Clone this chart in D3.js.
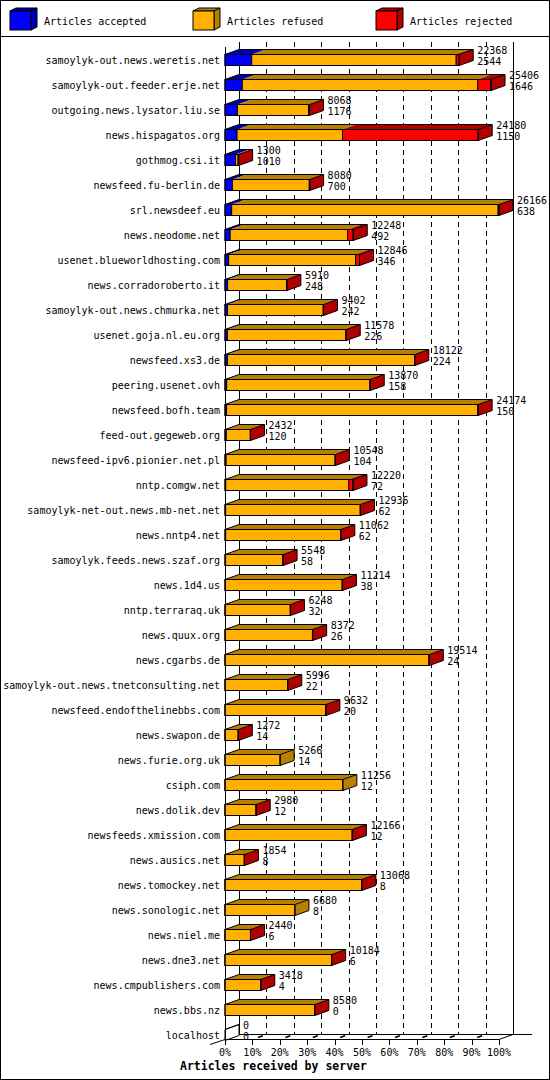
<!DOCTYPE html>
<html>
<head>
<meta charset="utf-8">
<script src="https://cdn.jsdelivr.net/npm/d3@7"></script>
<style>
  body { margin: 0; background: #fff; }
  svg { display: block; }
  text { font-family: "DejaVu Sans Mono", monospace; font-size: 10px; fill: #000; }
</style>
</head>
<body>
<svg id="chart"></svg>
<script>
// servers, sorted by accepted articles
const hosts = [
  "samoylyk-out.news.weretis.net", "samoylyk-out.feeder.erje.net", "outgoing.news.lysator.liu.se",
  "news.hispagatos.org", "gothmog.csi.it", "newsfeed.fu-berlin.de", "srl.newsdeef.eu",
  "news.neodome.net", "usenet.blueworldhosting.com", "news.corradoroberto.it",
  "samoylyk-out.news.chmurka.net", "usenet.goja.nl.eu.org", "newsfeed.xs3.de", "peering.usenet.ovh",
  "newsfeed.bofh.team", "feed-out.gegeweb.org", "newsfeed-ipv6.pionier.net.pl", "nntp.comgw.net",
  "samoylyk-net-out.news.mb-net.net", "news.nntp4.net", "samoylyk.feeds.news.szaf.org", "news.1d4.us",
  "nntp.terraraq.uk", "news.quux.org", "news.cgarbs.de", "samoylyk-out.news.tnetconsulting.net",
  "newsfeed.endofthelinebbs.com", "news.swapon.de", "news.furie.org.uk", "csiph.com", "news.dolik.dev",
  "newsfeeds.xmission.com", "news.ausics.net", "news.tomockey.net", "news.sonologic.net",
  "news.niel.me", "news.dne3.net", "news.cmpublishers.com", "news.bbs.nz", "localhost"
];
const accepted = [2544, 1646, 1176, 1150, 1010, 700, 638, 492, 346, 248, 242, 226, 224, 158, 150, 120,
  104, 72, 62, 62, 58, 38, 32, 26, 24, 22, 20, 14, 14, 12, 12, 12, 8, 8, 8, 6, 6, 4, 0, 0];
const refused = [19534, 22490, 6802, 10070, 240, 7350, 25448, 11216, 12120, 5642, 9140, 11322, 17878,
  13692, 24004, 2302, 10414, 11748, 12854, 10980, 5480, 11156, 6206, 8326, 19450, 5964, 9602, 1248,
  5252, 11244, 2958, 12134, 1836, 13040, 6672, 2424, 10168, 3404, 8570, 0];
const rejected = [290, 1270, 90, 12960, 50, 30, 80, 540, 380, 20, 20, 30, 20, 20, 20, 10, 30, 400, 20,
  20, 10, 20, 10, 20, 40, 10, 10, 10, 0, 0, 10, 20, 10, 20, 0, 10, 10, 10, 10, 0];
const seriesNames = ["Articles accepted", "Articles refused", "Articles rejected"];
const percentTicks = [0, 10, 20, 30, 40, 50, 60, 70, 80, 90, 100];

const width = 550, height = 1080;
const depthX = 14, depthY = 5;
const barH = 11;
const frontColor = ["#0000ff", "#ffb000", "#ff0000"];
const darkColor = ["#0000b0", "#b88000", "#b00000"];

const data = hosts.map((h, i) => ({
  host: h, 0: accepted[i], 1: refused[i], 2: rejected[i],
  total: accepted[i] + refused[i] + rejected[i]
}));
const stacked = d3.stack().keys([0, 1, 2])(data);

const x = d3.scaleLinear()
    .domain([0, d3.max(data, d => d.total)])
    .range([225, 499]);
const pct = d3.scaleLinear().domain([0, 100]).range([225, 499]);
const y = d3.scaleBand()
    .domain(hosts)
    .range([54, 54 + 25 * hosts.length]);

const floorY = 1039.5, topY = 42;

const svg = d3.select("#chart")
    .attr("width", width)
    .attr("height", height)
    .attr("viewBox", [0, 0, width, height]);

svg.append("rect").attr("width", width).attr("height", height).attr("fill", "#fff");

// legend
const legend = svg.append("g");
seriesNames.forEach((name, k) => {
  const lx = 10 + 183 * k, ly = 11, lw = 21, lh = 19, ldx = 6, ldy = 3;
  const g = legend.append("g").attr("stroke", "#000").attr("stroke-width", 1);
  g.append("path").attr("fill", darkColor[k])
    .attr("d", `M${lx},${ly}L${lx + ldx},${ly - ldy}H${lx + lw + ldx}L${lx + lw},${ly}Z`);
  g.append("path").attr("fill", darkColor[k])
    .attr("d", `M${lx + lw},${ly}L${lx + lw + ldx},${ly - ldy}V${ly + lh - ldy}L${lx + lw},${ly + lh}Z`);
  g.append("rect").attr("x", lx).attr("y", ly).attr("width", lw).attr("height", lh).attr("fill", frontColor[k]);
  legend.append("text").attr("x", lx + 34).attr("y", 25).text(name);
});
svg.append("line").attr("x1", 0).attr("x2", width).attr("y1", 36.5).attr("y2", 36.5)
    .attr("stroke", "#000");

// back wall: grid lines
const grid = svg.append("g").attr("stroke", "#000").attr("shape-rendering", "crispEdges");
grid.selectAll("line.g")
  .data(percentTicks)
  .join("line")
    .attr("x1", d => Math.round(pct(d) + depthX) + 0.5)
    .attr("x2", d => Math.round(pct(d) + depthX) + 0.5)
    .attr("y1", topY)
    .attr("y2", floorY - depthY)
    .attr("stroke-dasharray", d => (d === 0 || d === 100) ? null : "5,4");

// floor
const floor = svg.append("g").attr("stroke", "#000").attr("fill", "none");
floor.append("line").attr("x1", pct(0) + depthX).attr("x2", 532)
    .attr("y1", floorY - depthY).attr("y2", floorY - depthY).attr("shape-rendering", "crispEdges");
floor.append("line").attr("x1", pct(0)).attr("x2", pct(100))
    .attr("y1", floorY).attr("y2", floorY).attr("shape-rendering", "crispEdges");
floor.append("line").attr("x1", pct(0) - 15).attr("y1", floorY + 5)
    .attr("x2", pct(0)).attr("y2", floorY);
floor.append("line").attr("x1", pct(100)).attr("y1", floorY)
    .attr("x2", pct(100) + depthX).attr("y2", floorY - depthY);
floor.append("line").attr("x1", pct(0) + 0.5).attr("x2", pct(0) + 0.5)
    .attr("y1", topY + depthY).attr("y2", floorY).attr("shape-rendering", "crispEdges");
floor.selectAll("line.t")
  .data(percentTicks)
  .join("line")
    .attr("x1", d => Math.round(pct(d)) + 0.5)
    .attr("x2", d => Math.round(pct(d)) + 0.5)
    .attr("y1", floorY).attr("y2", floorY + 5)
    .attr("shape-rendering", "crispEdges");
floor.selectAll("line.d")
  .data(percentTicks.slice(1, 10))
  .join("line")
    .attr("stroke-width", 1.6)
    .attr("x1", d => pct(d) + depthX * 0.4).attr("y1", floorY - depthY * 0.4)
    .attr("x2", d => pct(d) + depthX * 0.75).attr("y2", floorY - depthY * 0.75);

svg.append("g")
  .selectAll("text")
  .data(percentTicks)
  .join("text")
    .attr("x", d => pct(d))
    .attr("y", 1056)
    .attr("text-anchor", "middle")
    .text(d => d + "%");

// bars
const bars = svg.append("g");
data.forEach((d, i) => {
  const t = y(d.host) + 0.5;
  const g = bars.append("g");
  const xs = x(0);
  const xe = x(d.total);
  let last = -1;
  stacked.forEach((s, k) => {
    const x0 = x(s[i][0]), x1 = x(s[i][1]);
    if (s[i][1] - s[i][0] <= 0) return;
    last = k;
    g.append("path").attr("fill", darkColor[k])
      .attr("d", `M${x0},${t}L${x0 + depthX},${t - depthY}H${x1 + depthX}L${x1},${t}Z`);
    g.append("rect")
      .attr("x", x0).attr("y", t).attr("width", x1 - x0).attr("height", barH)
      .attr("fill", frontColor[k]).attr("stroke", "#000");
  });
  g.append("path")
    .attr("fill", last >= 0 ? darkColor[last] : "none")
    .attr("stroke", "#000")
    .attr("d", `M${xe},${t}L${xe + depthX},${t - depthY}V${t - depthY + barH}L${xe},${t + barH}Z`);
  g.append("path")
    .attr("fill", "none").attr("stroke", "#000")
    .attr("d", `M${xs},${t}L${xs + depthX},${t - depthY}H${xe + depthX}`);
  g.append("rect")
    .attr("x", xs).attr("y", t).attr("width", xe - xs).attr("height", barH)
    .attr("fill", "none").attr("stroke", "#000");

  bars.append("text").attr("x", xe + depthX + 4).attr("y", t - 0.5).text(d.total);
  bars.append("text").attr("x", xe + depthX + 4).attr("y", t + 10.5).text(d[0]);
  bars.append("text").attr("x", 220).attr("y", t + 9).attr("text-anchor", "end").text(d.host);
});

svg.append("text")
    .attr("x", 180).attr("y", 1070)
    .style("font-weight", "bold").style("font-size", "11.5px")
    .text("Articles received by server");

svg.append("rect").attr("x", 0.5).attr("y", 0.5).attr("width", width - 1).attr("height", height - 1)
    .attr("fill", "none").attr("stroke", "#000");
</script>
</body>
</html>
